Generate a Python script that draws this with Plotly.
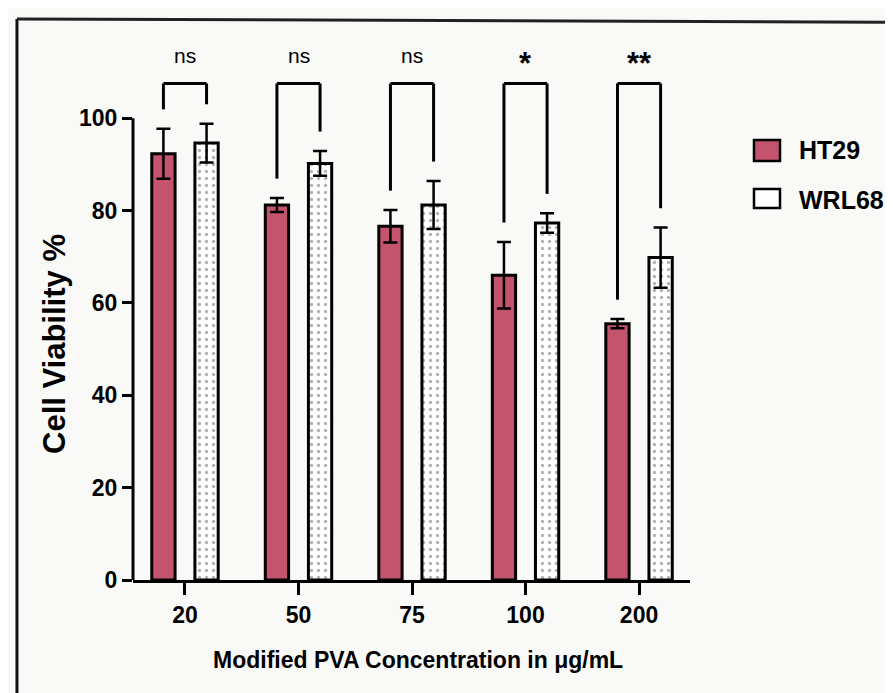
import plotly.graph_objects as go

# ---------------- data ----------------
categories = ["20", "50", "75", "100", "200"]
ht29_mean = [92.3, 81.2, 76.6, 66.0, 55.5]
ht29_err = [5.4, 1.5, 3.5, 7.2, 1.0]
wrl68_mean = [94.6, 90.2, 81.2, 77.3, 69.8]
wrl68_err = [4.2, 2.7, 5.2, 2.1, 6.5]
significance = ["ns", "ns", "ns", "*", "**"]
series_names = ["HT29", "WRL68"]
y_ticks = [0, 20, 40, 60, 80, 100]
x_title = "Modified PVA Concentration in μg/mL"
y_title = "Cell Viability %"

# ---------------- style ----------------
RED = "#c4546e"
FONT = "Liberation Sans, Arial, sans-serif"
BG = "#f9f9f7"

x = list(range(len(categories)))

fig = go.Figure()
fig.add_trace(go.Bar(
    x=x, y=ht29_mean, name=series_names[0],
    marker=dict(color=RED, line=dict(color="black", width=3)),
    error_y=dict(type="data", array=ht29_err, visible=True,
                 color="black", thickness=2.5, width=7),
    showlegend=False,
))
fig.add_trace(go.Bar(
    x=x, y=wrl68_mean, name=series_names[1],
    marker=dict(color="white", line=dict(color="black", width=3),
                pattern=dict(shape=".", fgcolor="#666666", bgcolor="white",
                             size=7, solidity=0.18)),
    error_y=dict(type="data", array=wrl68_err, visible=True,
                 color="black", thickness=2.5, width=7),
    showlegend=False,
))

shapes = []
annotations = []
half = 0.19
bracket_top = 107.5
for i in x:
    lt = ht29_mean[i] + ht29_err[i] + 4.2
    rt = wrl68_mean[i] + wrl68_err[i] + 4.2
    for (x0, y0, x1, y1) in [(i - half, lt, i - half, bracket_top),
                             (i - half, bracket_top, i + half, bracket_top),
                             (i + half, bracket_top, i + half, rt)]:
        shapes.append(dict(type="line", xref="x", yref="y", x0=x0, y0=y0,
                           x1=x1, y1=y1, line=dict(color="black", width=3)))
    s = significance[i]
    annotations.append(dict(
        x=i, y=113.5 if s == "ns" else 111.8, xref="x", yref="y",
        text=s if s == "ns" else "<b>%s</b>" % s, showarrow=False,
        font=dict(family=FONT, size=21 if s == "ns" else 31, color="black"),
        yanchor="middle"))

# y axis line (only 0..100, GraphPad style)
shapes.append(dict(type="line", xref="paper", yref="y", x0=0, x1=0, y0=0, y1=100,
                   line=dict(color="black", width=3)))

# frame of the photographed figure
L, R = -0.2083, 1.40
T, B = 1.0294, -0.2183
shapes.append(dict(type="line", xref="paper", yref="paper", x0=L, x1=L, y0=B, y1=T,
                   line=dict(color="#111", width=3)))
shapes.append(dict(type="line", xref="paper", yref="paper", x0=L, x1=R, y0=T, y1=T - 0.006,
                   line=dict(color="#222", width=3)))
shapes.append(dict(type="line", xref="paper", yref="paper", x0=L, x1=R, y0=B, y1=B,
                   line=dict(color="#cfcfcf", width=2)))

# manual legend
pw, ph = 557.0, 545.0
def px(xp):
    return (xp - 125) / pw
def py(yp):
    return (572 - yp) / ph
shapes.append(dict(type="rect", xref="paper", yref="paper",
                   x0=px(746), x1=px(772), y0=py(153), y1=py(132),
                   fillcolor=RED, line=dict(color="black", width=2.5)))
shapes.append(dict(type="rect", xref="paper", yref="paper",
                   x0=px(746), x1=px(772), y0=py(200), y1=py(181),
                   fillcolor="white", line=dict(color="black", width=2.5)))
for name, yc in zip(series_names, [142, 192]):
    annotations.append(dict(x=px(789), y=py(yc), xref="paper", yref="paper",
                            text="<b>%s</b>" % name, showarrow=False,
                            xanchor="left", yanchor="middle",
                            font=dict(family=FONT, size=25, color="black")))

# axis titles
annotations.append(dict(x=px(410), y=py(652), xref="paper", yref="paper",
                        text="<b>%s</b>" % x_title, showarrow=False,
                        xanchor="center", yanchor="middle",
                        font=dict(family=FONT, size=23, color="black")))
annotations.append(dict(x=px(46), y=py(336), xref="paper", yref="paper",
                        text="<b>%s</b>" % y_title, showarrow=False, textangle=-90,
                        xanchor="center", yanchor="middle",
                        font=dict(family=FONT, size=31, color="black")))

fig.update_layout(
    width=893, height=693,
    margin=dict(l=125, r=211, t=27, b=121),
    paper_bgcolor=BG, plot_bgcolor=BG,
    barmode="group", bargap=0.24, bargroupgap=0.46,
    shapes=shapes, annotations=annotations,
    font=dict(family=FONT, color="black"),
    xaxis=dict(range=[-0.458, 4.449], tickvals=x, ticktext=["<b>%s</b>" % c for c in categories],
               showline=True, linecolor="black", linewidth=3,
               ticks="outside", ticklen=12, tickwidth=3, tickcolor="black",
               tickfont=dict(family=FONT, size=23, color="black"),
               showgrid=False, zeroline=False, fixedrange=True),
    yaxis=dict(range=[0, 118], tickvals=y_ticks, ticktext=["<b>%d</b>" % v for v in y_ticks],
               showline=False, ticks="outside", ticklen=10, tickwidth=3, tickcolor="black",
               tickfont=dict(family=FONT, size=23, color="black"),
               showgrid=False, zeroline=False, fixedrange=True),
)

fig.write_html("out.html")
